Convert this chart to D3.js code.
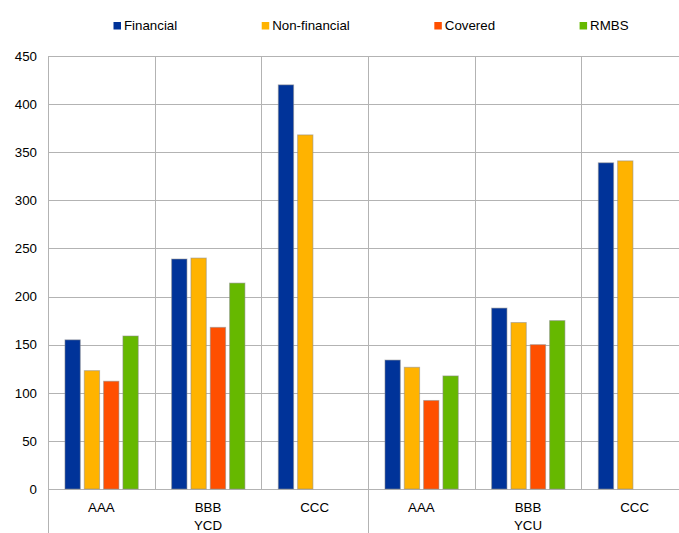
<!DOCTYPE html>
<html>
<head>
<meta charset="utf-8">
<script src="https://cdn.jsdelivr.net/npm/d3@7"></script>
<style>
  html, body { margin: 0; padding: 0; background: #fff; }
  svg { display: block; font-family: "Liberation Sans", Arial, sans-serif; }
</style>
</head>
<body>
<svg id="chart" width="679" height="533"></svg>
<script>
// Spread by rating bucket, grouped by curve
const groups = ["YCD", "YCU"];
const ratings = ["AAA", "BBB", "CCC"];
const series = ["Financial", "Non-financial", "Covered", "RMBS"];
const colors = ["#003399", "#ffb300", "#ff4f00", "#66b800"];
const yTicks = [0, 50, 100, 150, 200, 250, 300, 350, 400, 450];

// one array per series, ordered YCD AAA/BBB/CCC then YCU AAA/BBB/CCC
const financial    = [155, 239, 420, 134, 188, 339];
const nonFinancial = [123, 240, 368, 126.5, 173, 341];
const covered      = [112, 168, null, 92, 150, null];
const rmbs         = [159, 214, null, 117.5, 175, null];
const seriesValues = [financial, nonFinancial, covered, rmbs];

const categories = [];
groups.forEach(g => ratings.forEach(r => categories.push({ group: g, rating: r, key: g + "-" + r })));

const svg = d3.select("#chart");
const fontSize = 13.3;
const plotLeft = 48, plotTop = 56, plotBottom = 489;
const catWidth = 106.67;
const plotRight = plotLeft + catWidth * categories.length; // plot runs past the right edge

const x0 = d3.scaleBand().domain(categories.map(c => c.key)).range([plotLeft, plotRight]).padding(0);
const x1 = d3.scaleBand().domain(series)
  .range([x0.bandwidth() * 0.159, x0.bandwidth() * 0.846]).paddingInner(0.207);
const y = d3.scaleLinear().domain([0, 450]).range([plotBottom, plotTop]);

const grid = "#b3b3b3";

// horizontal gridlines
svg.append("g").selectAll("line").data(yTicks).join("line")
  .attr("x1", plotLeft).attr("x2", plotRight)
  .attr("y1", d => Math.round(y(d)) + 0.5).attr("y2", d => Math.round(y(d)) + 0.5)
  .attr("stroke", grid).attr("stroke-width", 1);

// category separators inside the plot
const bounds = categories.map(c => x0(c.key)).concat([plotRight]);
svg.append("g").selectAll("line").data(bounds).join("line")
  .attr("x1", d => Math.round(d) + 0.5).attr("x2", d => Math.round(d) + 0.5)
  .attr("y1", plotTop).attr("y2", plotBottom)
  .attr("stroke", grid).attr("stroke-width", 1);

// group separators reaching down through the label rows
const groupBounds = groups.map(g => x0(g + "-" + ratings[0])).concat([plotRight]);
svg.append("g").selectAll("line").data(groupBounds).join("line")
  .attr("x1", d => Math.round(d) + 0.5).attr("x2", d => Math.round(d) + 0.5)
  .attr("y1", plotBottom).attr("y2", 533)
  .attr("stroke", grid).attr("stroke-width", 1);

// bars
const barData = [];
categories.forEach((c, i) => series.forEach((s, j) => {
  const v = seriesValues[j][i];
  if (v != null) barData.push({ key: c.key, s, j, v });
}));
svg.append("g").selectAll("rect").data(barData).join("rect")
  .attr("x", d => x0(d.key) + x1(d.s))
  .attr("y", d => y(d.v))
  .attr("width", x1.bandwidth())
  .attr("height", d => y(0) - y(d.v))
  .attr("fill", d => colors[d.j])
  .attr("stroke", "rgba(140,140,140,0.55)")
  .attr("stroke-width", 1);

// y axis labels
const yAxis = d3.axisLeft(y).tickValues(yTicks).tickSize(0).tickPadding(11);
const ya = svg.append("g").attr("transform", `translate(${plotLeft},0)`).call(yAxis);
ya.select(".domain").remove();
ya.selectAll("text").attr("font-size", fontSize).attr("fill", "#000")
  .attr("font-family", "Liberation Sans, Arial, sans-serif");

// rating labels
svg.append("g").selectAll("text").data(categories).join("text")
  .attr("x", d => x0(d.key) + x0.bandwidth() / 2)
  .attr("y", 511.5)
  .attr("text-anchor", "middle").attr("font-size", fontSize).attr("fill", "#000")
  .text(d => d.rating);

// group labels
svg.append("g").selectAll("text").data(groups).join("text")
  .attr("x", g => (x0(g + "-" + ratings[0]) + x0(g + "-" + ratings[ratings.length - 1]) + x0.bandwidth()) / 2)
  .attr("y", 530)
  .attr("text-anchor", "middle").attr("font-size", fontSize).attr("fill", "#000")
  .text(g => g);

// legend laid out left to right with a fixed gap after each label
const legend = svg.append("g");
let lx = 113.5;
series.forEach((s, j) => {
  legend.append("rect").attr("x", lx).attr("y", 22).attr("width", 7.5).attr("height", 7.5)
    .attr("fill", colors[j]);
  const t = legend.append("text").attr("x", lx + 10.5).attr("y", 30)
    .attr("font-size", fontSize).attr("fill", "#000").text(s);
  lx += 10.5 + t.node().getComputedTextLength() + 84.5;
});
</script>
</body>
</html>
